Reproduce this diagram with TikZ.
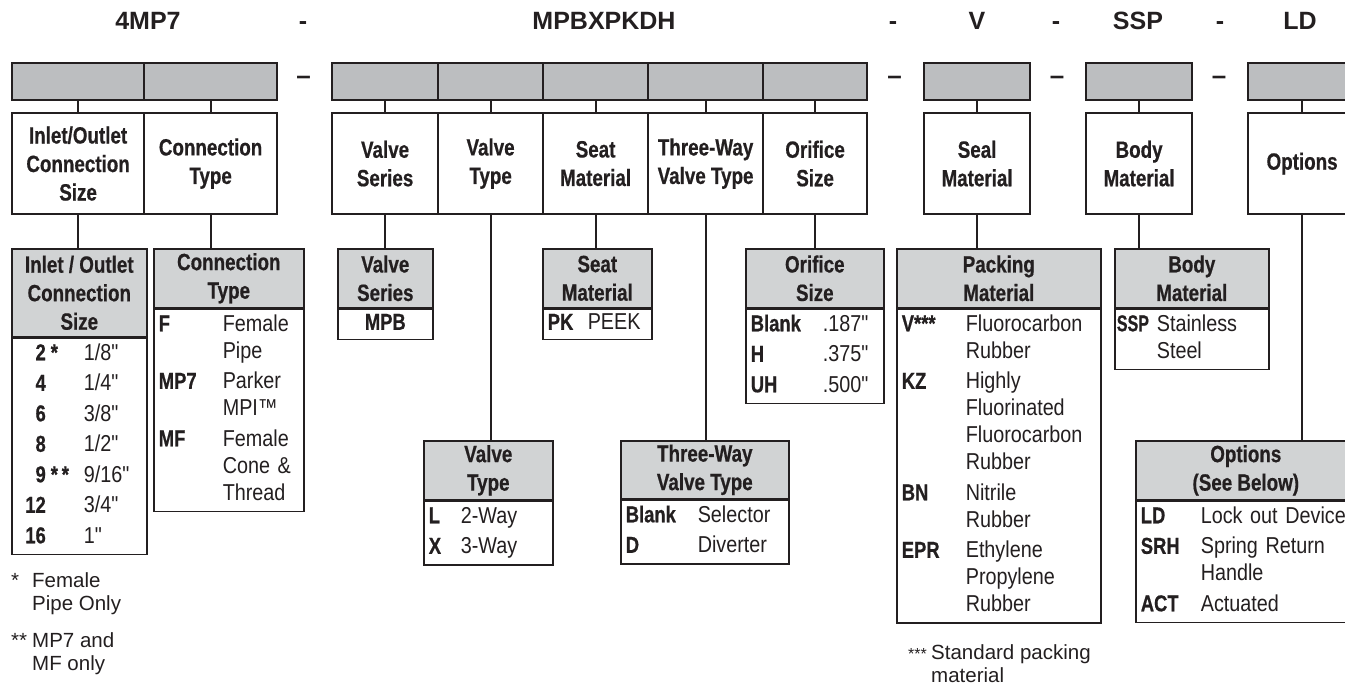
\documentclass[tikz,border=0pt]{standalone}
\usepackage{fontspec}
\setmainfont{Liberation Sans}
\newfontfamily\cnd{Liberation Sans}[FakeStretch=0.86]
\newfontfamily\cndb{Liberation Sans}[FakeStretch=0.8, BoldFeatures={FakeBold=0.6}]
\newfontfamily\cndn{Liberation Sans}[FakeStretch=0.7, BoldFeatures={FakeBold=0.6}]
\definecolor{ink}{HTML}{231F20}
\definecolor{barfill}{HTML}{BCBEC0}
\definecolor{hdrfill}{HTML}{D1D3D4}
\newcommand\crow[3]{\makebox[#1][l]{\strut\cndb\bfseries #2}#3}
\begin{document}
\begin{tikzpicture}[x=1pt,y=-1pt,
  barbox/.style={draw=ink, fill=barfill, line width=2.2pt, minimum height=37pt, inner sep=0pt, anchor=north west},
  lblbox/.style={draw=ink, fill=white, line width=2.2pt, minimum height=101pt, inner sep=0pt, anchor=north west, align=center, text=ink, font=\cndb\bfseries\fontsize{23.5}{28.5}\selectfont},
  thead/.style={draw=ink, fill=hdrfill, line width=1.6pt, inner sep=0pt, anchor=north west, align=center, text=ink, font=\cndb\bfseries\fontsize{23.5}{28.5}\selectfont},
  tbody/.style={draw=ink, fill=white, line width=1.6pt, inner xsep=5pt, inner ysep=3pt, anchor=north west, align=left, text=ink, font=\cnd\fontsize{23}{27}\selectfont},
  conn/.style={draw=ink, line width=2pt},
  title/.style={anchor=base, inner sep=0pt, text=ink, font=\bfseries\fontsize{25}{28}\selectfont},
  sepdash/.style={anchor=base, inner sep=0pt, text=ink, font=\bfseries\fontsize{26}{28}\selectfont},
  fnote/.style={anchor=north west, inner sep=0pt, align=left, text=ink, font=\fontsize{20.5}{23}\selectfont}
]
\useasboundingbox (0,0) rectangle (1345,691);
\clip (0,0) rectangle (1345,691);

% titles
\node[title] (ti1) at (148,29) {4MP7};
\node[title] (td1) at (303,29) {-};
\node[title] (ti2) at (604,29) {MPBXPKDH};
\node[title] (td2) at (893,29) {-};
\node[title] (ti3) at (977,29) {V};
\node[title] (td3) at (1056,29) {-};
\node[title] (ti4) at (1138,29) {SSP};
\node[title] (td4) at (1220,29) {-};
\node[title] (ti5) at (1300,29) {LD};

% separators between bar groups
\node[sepdash] (sd1) at (303.5,84) {–};
\node[sepdash] (sd2) at (894.5,84) {–};
\node[sepdash] (sd3) at (1057,84) {–};
\node[sepdash] (sd4) at (1219,84) {–};

% top bars
\node[barbox, minimum width=132pt] (b1) at (11,62) {};
\node[barbox, minimum width=133pt] (b2) at (143,62) {};
\node[barbox, minimum width=106pt] (b3) at (331,62) {};
\node[barbox, minimum width=105pt] (b4) at (437,62) {};
\node[barbox, minimum width=105pt] (b5) at (542,62) {};
\node[barbox, minimum width=115pt] (b6) at (647,62) {};
\node[barbox, minimum width=104pt] (b7) at (762,62) {};
\node[barbox, minimum width=106pt] (b8) at (923,62) {};
\node[barbox, minimum width=106pt] (b9) at (1085,62) {};
\node[barbox, minimum width=108pt] (b10) at (1247,62) {};

% label boxes
\node[lblbox, minimum width=132pt] (l1) at (11,112) {Inlet/Outlet\\Connection\\Size};
\node[lblbox, minimum width=133pt] (l2) at (143,112) {Connection\\Type};
\node[lblbox, minimum width=106pt] (l3) at (331,112) {Valve\\Series};
\node[lblbox, minimum width=105pt] (l4) at (437,112) {Valve\\Type};
\node[lblbox, minimum width=105pt] (l5) at (542,112) {Seat\\Material};
\node[lblbox, minimum width=115pt] (l6) at (647,112) {Three-Way\\Valve Type};
\node[lblbox, minimum width=104pt] (l7) at (762,112) {Orifice\\Size};
\node[lblbox, minimum width=106pt] (l8) at (923,112) {Seal\\Material};
\node[lblbox, minimum width=106pt] (l9) at (1085,112) {Body\\Material};
\node[lblbox, minimum width=108pt] (l10) at (1247,112) {Options};

% bar to label ticks
\foreach \i in {1,...,10} { \draw[conn] (b\i.south) -- (l\i.north); }

% table headers
\node[thead, minimum width=135pt, minimum height=88pt] (h1) at (11,248) {Inlet / Outlet\\Connection\\Size};
\node[thead, minimum width=150pt, minimum height=59pt] (h2) at (153,248) {Connection\\Type};
\node[thead, minimum width=95pt, minimum height=59pt] (h3) at (337,248) {Valve\\Series};
\node[thead, minimum width=129pt, minimum height=59pt] (h4) at (423,440) {Valve\\Type};
\node[thead, minimum width=109pt, minimum height=59pt] (h5) at (542,248) {Seat\\Material};
\node[thead, minimum width=168pt, minimum height=58pt] (h6) at (620,440) {Three-Way\\Valve Type};
\node[thead, minimum width=138pt, minimum height=59pt] (h7) at (745,248) {Orifice\\Size};
\node[thead, minimum width=204pt, minimum height=59pt] (h8) at (896,248) {Packing\\Material};
\node[thead, minimum width=154pt, minimum height=59pt] (h9) at (1114,248) {Body\\Material};
\node[thead, minimum width=220pt, minimum height=59pt] (h10) at (1135,440) {Options\\(See Below)};

% table bodies
\node[tbody, text width=125pt] (t1) at (h1.south west) {%
\makebox[29pt][r]{\strut\cndb\bfseries 2}\makebox[38pt][l]{\cndb\bfseries\hspace{5pt}*}1/8"\\[3.5pt]
\makebox[29pt][r]{\strut\cndb\bfseries 4}\makebox[38pt][l]{}1/4"\\[3.5pt]
\makebox[29pt][r]{\strut\cndb\bfseries 6}\makebox[38pt][l]{}3/8"\\[3.5pt]
\makebox[29pt][r]{\strut\cndb\bfseries 8}\makebox[38pt][l]{}1/2"\\[3.5pt]
\makebox[29pt][r]{\strut\cndb\bfseries 9}\makebox[38pt][l]{\cndb\bfseries\hspace{5pt}*\,*}9/16"\\[3.5pt]
\makebox[29pt][r]{\strut\cndb\bfseries 12}\makebox[38pt][l]{}3/4"\\[3.5pt]
\makebox[29pt][r]{\strut\cndb\bfseries 16}\makebox[38pt][l]{}1"};
\node[tbody, text width=140pt] (t2) at (h2.south west) {%
\crow{64pt}{F}{Female}\\
\crow{64pt}{}{Pipe}\\[3.5pt]
\crow{64pt}{MP7}{Parker}\\
\crow{64pt}{}{MPI™}\\[3.5pt]
\crow{64pt}{MF}{Female}\\
\crow{64pt}{}{Cone \&}\\
\crow{64pt}{}{Thread}};
\node[tbody, text width=85pt, align=center, inner ysep=1.5pt] (t3) at (h3.south west) {\strut\cndb\bfseries MPB};
\node[tbody, text width=119pt] (t4) at (h4.south west) {%
\crow{32pt}{L}{2-Way}\\[3.5pt]
\crow{32pt}{X}{3-Way}};
\node[tbody, text width=99pt, inner ysep=1.5pt] (t5) at (h5.south west) {\crow{40pt}{PK}{PEEK}};
\node[tbody, text width=158pt] (t6) at (h6.south west) {%
\crow{72pt}{Blank}{Selector}\\[3.5pt]
\crow{72pt}{D}{Diverter}};
\node[tbody, text width=128pt] (t7) at (h7.south west) {%
\crow{72pt}{Blank}{.187"}\\[3.5pt]
\crow{72pt}{H}{.375"}\\[3.5pt]
\crow{72pt}{UH}{.500"}};
\node[tbody, text width=194pt] (t8) at (h8.south west) {%
\crow{64pt}{V*{}*{}*}{Fluorocarbon}\\
\crow{64pt}{}{Rubber}\\[3.5pt]
\crow{64pt}{KZ}{Highly}\\
\crow{64pt}{}{Fluorinated}\\
\crow{64pt}{}{Fluorocarbon}\\
\crow{64pt}{}{Rubber}\\[3.5pt]
\crow{64pt}{BN}{Nitrile}\\
\crow{64pt}{}{Rubber}\\[3.5pt]
\crow{64pt}{EPR}{Ethylene}\\
\crow{64pt}{}{Propylene}\\
\crow{64pt}{}{Rubber}};
\node[tbody, text width=150pt, inner xsep=2pt] (t9) at (h9.south west) {%
\makebox[40pt][l]{\strut\cndn\bfseries SSP}Stainless\\
\crow{40pt}{}{Steel}};
\node[tbody, text width=210pt] (t10) at (h10.south west) {%
\crow{60pt}{LD}{Lock out Device}\\[3.5pt]
\crow{60pt}{SRH}{Spring Return}\\
\crow{60pt}{}{Handle}\\[3.5pt]
\crow{60pt}{ACT}{Actuated}};

% label to table connectors
\draw[conn] (l1.south) -- (l1.south |- h1.north);
\draw[conn] (l2.south) -- (l2.south |- h2.north);
\draw[conn] (l3.south) -- (l3.south |- h3.north);
\draw[conn] (l4.south) -- (l4.south |- h4.north);
\draw[conn] (l5.south) -- (l5.south |- h5.north);
\draw[conn] (l6.south) -- (l6.south |- h6.north);
\draw[conn] (l7.south) -- (l7.south |- h7.north);
\draw[conn] (l8.south) -- (l8.south |- h8.north);
\draw[conn] (l9.south) -- (l9.south |- h9.north);
\draw[conn] (l10.south) -- (l10.south |- h10.north);

% footnotes
\node[fnote] (fn1) at (11,572) {\makebox[21pt][l]{*}Female\\\hspace*{21pt}Pipe Only};
\node[fnote] (fn2) at (11,632) {\makebox[21pt][l]{*{}*}MP7 and\\\hspace*{21pt}MF only};
\node[fnote] (fn3) at (908,644) {\makebox[23pt][l]{\fontsize{16}{16}\selectfont *{}*{}*}Standard packing\\\hspace*{23pt}material};
\end{tikzpicture}
\end{document}
